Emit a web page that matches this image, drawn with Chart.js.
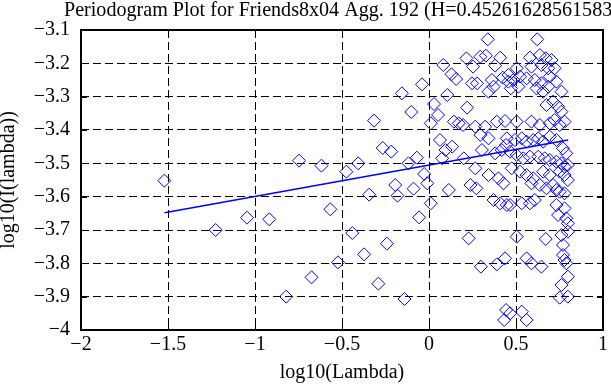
<!DOCTYPE html>
<html>
<head>
<meta charset="utf-8">
<script src="https://cdn.jsdelivr.net/npm/chart.js@4/dist/chart.umd.min.js"></script>
<style>
html,body{margin:0;padding:0;background:#fff;}
#c{display:block;}
</style>
</head>
<body>
<canvas id="c" width="611" height="385"></canvas>
<script>
const titleText = "Periodogram Plot for Friends8x04 Agg. 192 (H=0.45261628561583)";
const xAxisTitle = "log10(Lambda)";
const yAxisTitle = "log10(I(lambda))";

const xTickValues = [-2, -1.5, -1, -0.5, 0, 0.5, 1];
const xTickLabels = ["\u22122", "\u22121.5", "\u22121", "\u22120.5", "0", "0.5", "1"];
const yTickValues = [-4, -3.9, -3.8, -3.7, -3.6, -3.5, -3.4, -3.3, -3.2, -3.1];
const yTickLabels = ["\u22124", "\u22123.9", "\u22123.8", "\u22123.7", "\u22123.6", "\u22123.5", "\u22123.4", "\u22123.3", "\u22123.2", "\u22123.1"];

const logLambda = [
 -1.521,-1.226,-1.046,-0.918,-0.821,-0.747,-0.675,-0.618,-0.567,-0.523,
 -0.475,-0.441,-0.407,-0.373,-0.344,-0.316,-0.291,-0.266,-0.242,-0.217,
 -0.194,-0.181,-0.156,-0.141,-0.118,-0.102,-0.089,-0.070,-0.057,-0.040,
 -0.028,-0.010,0.010,0.010,0.029,0.052,0.063,0.076,0.082,0.095,
 0.105,0.114,0.129,0.133,0.143,0.156,0.171,0.196,0.200,0.215,
 0.219,0.228,0.238,0.247,0.253,0.266,0.266,0.272,0.276,0.295,
 0.295,0.298,0.304,0.323,0.327,0.338,0.342,0.342,0.342,0.361,
 0.371,0.371,0.380,0.380,0.390,0.390,0.399,0.409,0.409,0.418,
 0.424,0.428,0.437,0.437,0.443,0.443,0.432,0.447,0.447,0.456,
 0.456,0.466,0.466,0.466,0.470,0.475,0.485,0.494,0.504,0.504,
 0.504,0.504,0.514,0.523,0.523,0.533,0.533,0.533,0.542,0.561,
 0.561,0.561,0.561,0.561,0.580,0.580,0.580,0.589,0.589,0.589,
 0.589,0.599,0.599,0.608,0.608,0.618,0.622,0.628,0.628,0.637,
 0.637,0.637,0.646,0.646,0.646,0.656,0.656,0.656,0.665,0.671,
 0.671,0.675,0.675,0.685,0.685,0.694,0.694,0.694,0.694,0.694,
 0.704,0.713,0.713,0.722,0.722,0.732,0.732,0.732,0.732,0.732,
 0.742,0.742,0.751,0.751,0.751,0.751,0.761,0.761,0.761,0.761,
 0.761,0.770,0.770,0.770,0.779,0.779,0.779,0.779,0.779,0.779,
 0.789,0.789,0.789,0.798,0.798,0.798,0.798,0.798,0.798
];
const logI = [
 -3.552,-3.700,-3.663,-3.668,-3.900,-3.492,-3.842,-3.507,-3.638,-3.797,
 -3.525,-3.709,-3.500,-3.773,-3.594,-3.372,-3.861,-3.454,-3.741,-3.465,
 -3.565,-3.597,-3.290,-3.907,-3.500,-3.346,-3.576,-3.483,-3.662,-3.263,
 -3.532,-3.560,-3.620,-3.380,-3.322,-3.355,-3.430,-3.485,-3.205,-3.460,
 -3.295,-3.580,-3.233,-3.450,-3.375,-3.247,-3.380,-3.385,-3.485,-3.185,
 -3.333,-3.725,-3.565,-3.260,-3.210,-3.515,-3.390,-3.575,-3.260,-3.180,
 -3.415,-3.810,-3.460,-3.390,-3.177,-3.128,-3.285,-3.535,-3.425,-3.250,
 -3.270,-3.610,-3.207,-3.470,-3.375,-3.803,-3.545,-3.183,-3.620,-3.460,
 -3.243,-3.560,-3.373,-3.785,-3.445,-3.940,-3.970,-3.625,-3.425,-3.255,
 -3.235,-3.465,-3.625,-3.950,-3.275,-3.515,-3.250,-3.430,-3.215,-3.375,
 -3.475,-3.720,-3.270,-3.240,-3.525,-3.425,-3.620,-3.945,-3.485,-3.245,
 -3.435,-3.535,-3.785,-3.970,-3.183,-3.480,-3.620,-3.210,-3.375,-3.560,
 -3.800,-3.430,-3.545,-3.250,-3.610,-3.275,-3.128,-3.425,-3.480,-3.175,
 -3.385,-3.565,-3.205,-3.260,-3.810,-3.285,-3.435,-3.525,-3.485,-3.185,
 -3.727,-3.325,-3.575,-3.215,-3.270,-3.240,-3.380,-3.420,-3.490,-3.535,
 -3.190,-3.315,-3.565,-3.215,-3.370,-3.255,-3.430,-3.495,-3.580,-3.625,
 -3.330,-3.655,-3.385,-3.525,-3.585,-3.903,-3.285,-3.345,-3.500,-3.715,
 -3.865,-3.455,-3.745,-3.775,-3.375,-3.510,-3.535,-3.590,-3.635,-3.790,
 -3.470,-3.665,-3.800,-3.505,-3.550,-3.680,-3.705,-3.840,-3.900
];

const fitX = [-1.52, 0.80];
const fitY = [-3.648, -3.430];

const FONT = '"Liberation Serif", "Times New Roman", serif';

const framePlugin = {
  id: 'frame',
  afterDraw(chart) {
    const ctx = chart.ctx;
    const a = chart.chartArea;
    const xs = chart.scales.x, ys = chart.scales.y;
    ctx.save();
    ctx.strokeStyle = '#000';
    ctx.lineWidth = 1;
    ctx.setLineDash([]);
    ctx.beginPath();
    xTickValues.forEach(v => {
      const px = Math.round(xs.getPixelForValue(v)) + 0.5;
      ctx.moveTo(px, a.bottom); ctx.lineTo(px, a.bottom - 6);
      ctx.moveTo(px, a.top); ctx.lineTo(px, a.top + 6);
    });
    yTickValues.forEach(v => {
      const py = Math.round(ys.getPixelForValue(v)) + 0.5;
      ctx.moveTo(a.left, py); ctx.lineTo(a.left + 6, py);
      ctx.moveTo(a.right, py); ctx.lineTo(a.right - 6, py);
    });
    ctx.stroke();
    ctx.lineWidth = 2;
    ctx.strokeRect(Math.round(a.left), Math.round(a.top), Math.round(a.right - a.left), Math.round(a.bottom - a.top));
    // title
    ctx.fillStyle = '#000';
    ctx.font = '20.1px ' + FONT;
    ctx.textAlign = 'left';
    ctx.textBaseline = 'alphabetic';
    ctx.fillText(titleText, 64, 16);
    ctx.restore();
  }
};

const points = logLambda.map((x, i) => ({x: x, y: logI[i]}));
const fitLine = fitX.map((x, i) => ({x: x, y: fitY[i]}));

new Chart(document.getElementById('c'), {
  type: 'scatter',
  data: {
    datasets: [
      {
        label: 'periodogram',
        data: points,
        pointStyle: 'rectRot',
        pointRadius: 6.5,
        pointHoverRadius: 6.5,
        pointBorderWidth: 1,
        borderColor: '#0000ff',
        backgroundColor: 'rgba(0,0,0,0)',
        showLine: false
      },
      {
        label: 'fit',
        data: fitLine,
        showLine: true,
        borderColor: '#0000ff',
        borderWidth: 1.5,
        pointRadius: 0,
        fill: false
      }
    ]
  },
  options: {
    responsive: false,
    animation: false,
    devicePixelRatio: 1,
    layout: { padding: { top: 30, right: 4, left: 0, bottom: 0 } },
    plugins: {
      legend: { display: false },
      tooltip: { enabled: false },
      title: { display: false }
    },
    scales: {
      x: {
        type: 'linear',
        min: -2, max: 1,
        afterBuildTicks(scale) { scale.ticks = xTickValues.map(v => ({value: v})); },
        afterFit(scale) { scale.height = 55; },
        ticks: {
          color: '#000',
          font: { family: FONT, size: 20 },
          padding: 3,
          maxRotation: 0,
          autoSkip: false,
          callback(value, index) { return xTickLabels[index]; }
        },
        grid: { color: '#000', lineWidth: 1, drawTicks: false },
        border: { display: false, dash: [8, 4] },
        title: { display: true, text: xAxisTitle, color: '#000', font: { family: FONT, size: 20 }, padding: { top: 0, bottom: 0 } }
      },
      y: {
        type: 'linear',
        min: -4, max: -3.1,
        afterBuildTicks(scale) { scale.ticks = yTickValues.map(v => ({value: v})); },
        afterFit(scale) { scale.width = 81; },
        ticks: {
          color: '#000',
          font: { family: FONT, size: 20 },
          padding: 11,
          autoSkip: false,
          callback(value, index) { return yTickLabels[index]; }
        },
        grid: { color: '#000', lineWidth: 1, drawTicks: false },
        border: { display: false, dash: [8, 4] },
        title: { display: true, text: yAxisTitle, color: '#000', font: { family: FONT, size: 20, lineHeight: 0.9 }, padding: { top: 0, bottom: 0 } }
      }
    }
  },
  plugins: [framePlugin]
});
</script>
</body>
</html>
